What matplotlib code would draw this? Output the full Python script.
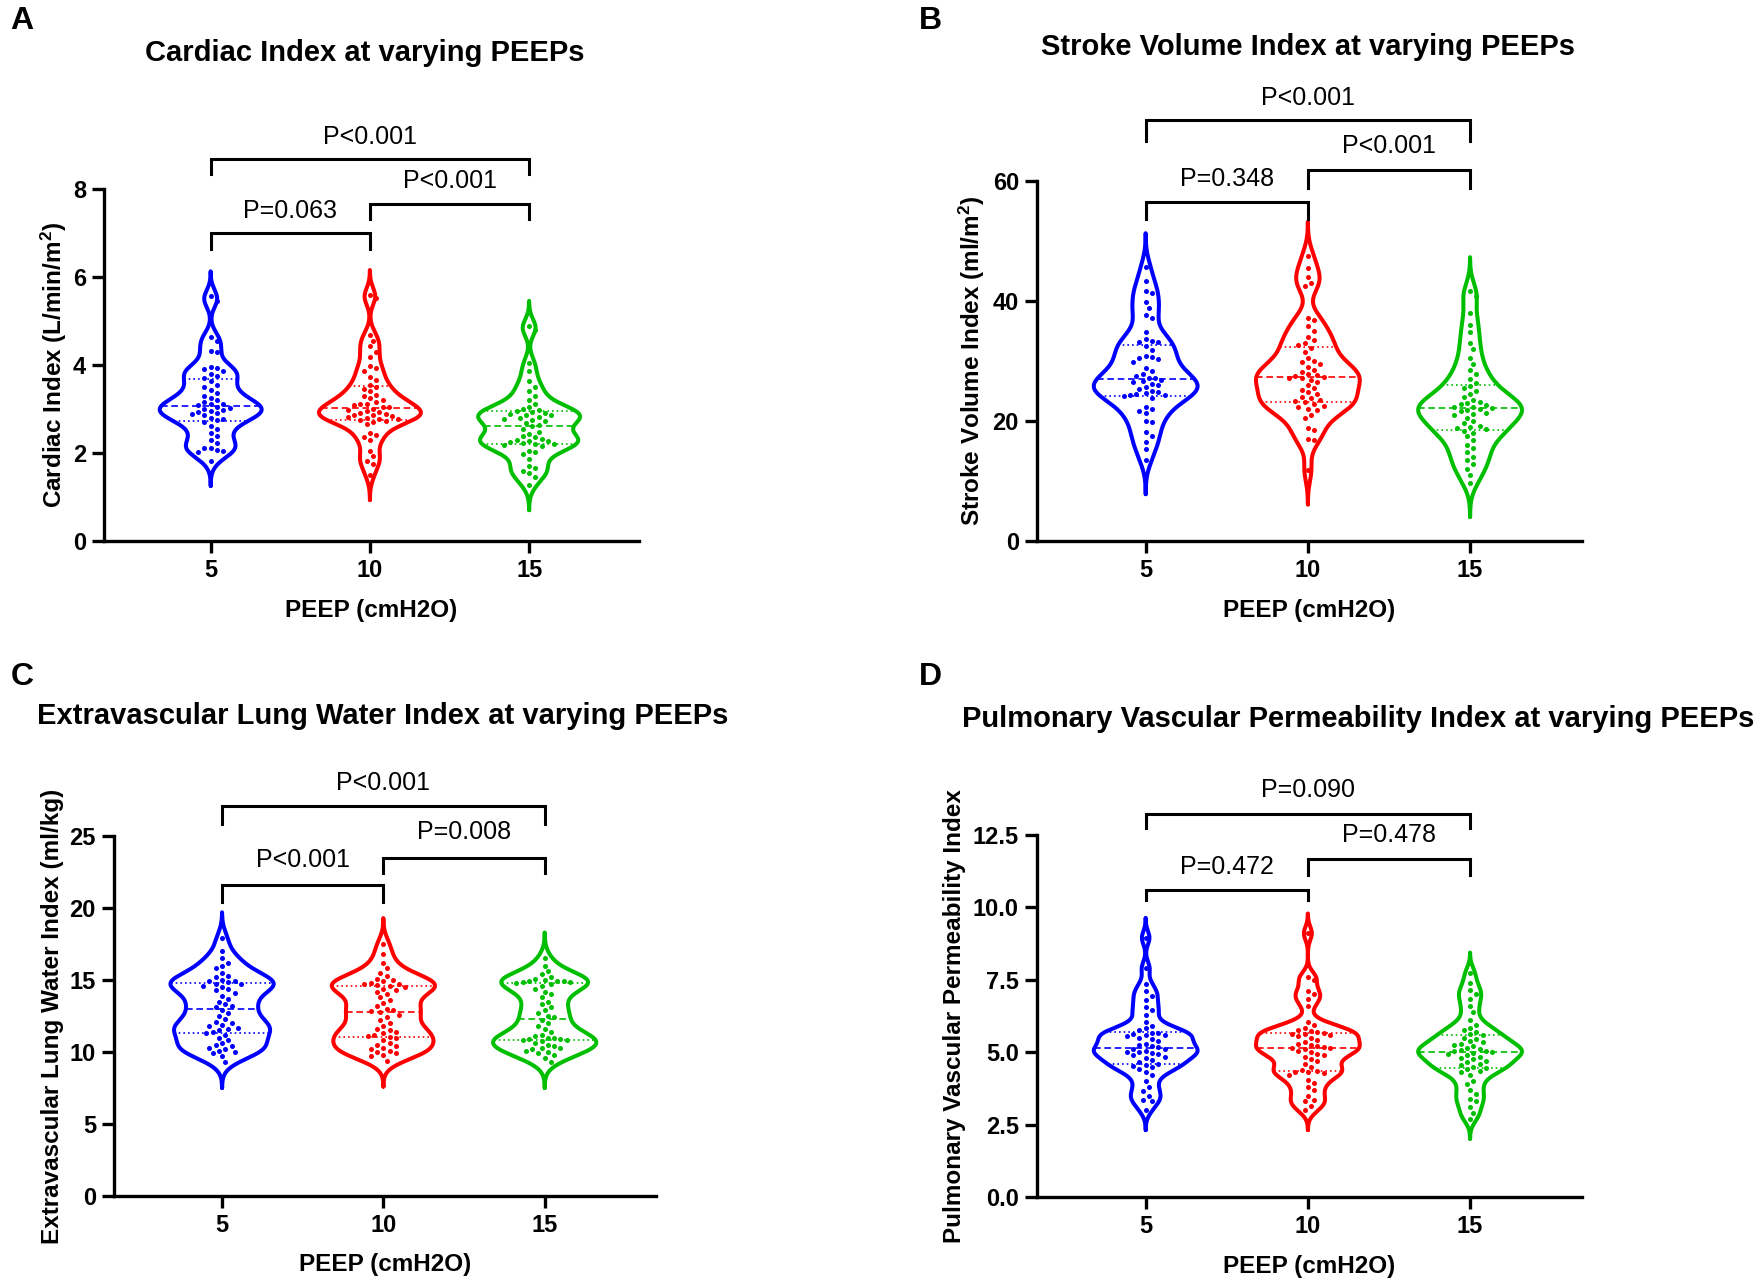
import numpy as np
import matplotlib
matplotlib.use('Agg')
import matplotlib.pyplot as plt

plt.rcParams['font.family'] = ['Liberation Sans', 'DejaVu Sans']
plt.rcParams['mathtext.fontset'] = 'custom'
plt.rcParams['mathtext.rm'] = 'Liberation Sans:bold'
plt.rcParams['mathtext.bf'] = 'Liberation Sans:bold'
plt.rcParams['mathtext.default'] = 'rm'

# ---------------- data ----------------
peep_labels = ['5', '10', '15']
group_colors = ['#0000FF', '#FF0000', '#00BF00']

# Panel A: Cardiac Index (L/min/m2)
ci_peep5 = [5.55, 5.45, 4.62, 4.55, 4.32, 4.28, 3.95, 3.93, 3.9, 3.86, 3.8, 3.75, 3.7,
            3.62, 3.55, 3.5, 3.42, 3.35, 3.3, 3.25, 3.2, 3.15, 3.12, 3.1, 3.08,
            3.05, 3.02, 3.0, 2.97, 2.95, 2.92, 2.9, 2.88, 2.85, 2.8, 2.78, 2.75,
            2.7, 2.62, 2.55, 2.45, 2.38, 2.3, 2.22, 2.12, 2.1, 2.07, 2.05, 2.03, 1.82]
ci_peep10 = [5.58, 5.52, 4.68, 4.55, 4.42, 4.3, 4.18, 3.97, 3.92, 3.85, 3.72, 3.65, 3.55,
             3.5, 3.45, 3.4, 3.32, 3.28, 3.25, 3.2, 3.15, 3.12, 3.1, 3.08, 3.05, 3.03,
             3.0, 2.98, 2.95, 2.92, 2.9, 2.88, 2.86, 2.85, 2.83, 2.82, 2.8, 2.78, 2.76,
             2.74, 2.72, 2.7, 2.65, 2.45, 2.4, 2.35, 2.3, 2.05, 1.92, 1.82, 1.75, 1.5]
ci_peep15 = [4.88, 4.8, 4.05, 3.85, 3.62, 3.5, 3.4, 3.3, 3.2, 3.1, 3.05, 3.0, 2.97,
             2.94, 2.92, 2.9, 2.88, 2.86, 2.85, 2.82, 2.8, 2.78, 2.75, 2.72, 2.68, 2.64,
             2.6, 2.55, 2.48, 2.42, 2.38, 2.35, 2.32, 2.3, 2.28, 2.26, 2.25, 2.23, 2.21,
             2.2, 2.18, 2.15, 2.05, 2.02, 1.98, 1.85, 1.7, 1.65, 1.58, 1.55, 1.45, 1.27]

# Panel B: Stroke Volume Index (ml/m2)
svi_peep5 = [45.6, 43.3, 41.7, 41.3, 39.8, 38.8, 37.7, 37.1, 34.8, 33.7, 33.3, 33.2, 33.1,
             32.5, 31.8, 30.8, 30.6, 30.5, 30.3, 29.8, 28.8, 28.3, 27.8, 27.5, 27.2, 27.1,
             26.9, 26.7, 26.5, 26.2, 26.0, 25.7, 25.4, 25.0, 24.8, 24.6, 24.5, 24.4, 24.3,
             24.1, 23.9, 22.4, 22.0, 21.7, 21.3, 20.0, 19.8, 18.2, 17.5, 16.5, 15.4, 13.5]
svi_peep10 = [47.5, 45.5, 44.0, 43.0, 42.5, 37.2, 36.8, 35.8, 35.0, 34.0, 33.5, 33.0, 32.7,
              32.2, 31.5, 30.5, 30.0, 29.8, 29.5, 29.0, 28.5, 28.2, 27.9, 27.6, 27.5, 27.4,
              27.2, 27.1, 26.9, 26.5, 26.0, 25.5, 25.2, 24.8, 24.5, 24.0, 23.8, 23.5, 23.3,
              23.1, 22.8, 22.5, 22.3, 22.0, 21.8, 21.0, 20.5, 18.8, 18.5, 17.0, 16.8, 11.8]
svi_peep15 = [41.6, 40.8, 38.0, 36.0, 34.8, 33.0, 32.0, 30.5, 29.5, 28.5, 27.8, 27.0, 26.3,
              25.8, 25.5, 25.0, 24.5, 24.0, 23.5, 23.2, 23.0, 22.8, 22.6, 22.4, 22.3, 22.2,
              22.0, 21.8, 21.6, 21.4, 21.2, 21.0, 20.5, 20.0, 19.6, 19.2, 19.0, 18.8, 18.6,
              18.4, 18.0, 17.5, 16.8, 16.0, 15.5, 14.8, 14.0, 13.5, 12.8, 12.0, 11.0, 9.7]

# Panel C: Extravascular Lung Water Index (ml/kg)
evlwi_peep5 = [17.9, 17.0, 16.5, 16.2, 16.0, 15.8, 15.5, 15.3, 15.2, 15.0, 14.95, 14.9, 14.85,
               14.75, 14.7, 14.6, 14.5, 14.4, 14.3, 14.1, 13.9, 13.7, 13.5, 13.3, 13.2, 13.1,
               12.9, 12.7, 12.5, 12.3, 12.1, 12.0, 11.9, 11.8, 11.7, 11.6, 11.5, 11.4, 11.35,
               11.2, 11.0, 10.8, 10.6, 10.5, 10.4, 10.3, 10.2, 10.1, 10.0, 9.9, 9.7, 9.3]
evlwi_peep10 = [17.5, 16.8, 16.2, 15.8, 15.5, 15.3, 15.1, 15.0, 14.9, 14.8, 14.75, 14.7, 14.65,
                14.55, 14.5, 14.4, 14.3, 14.2, 14.0, 13.8, 13.6, 13.4, 13.2, 13.0, 12.9, 12.85,
                12.75, 12.6, 12.4, 12.2, 12.0, 11.8, 11.6, 11.5, 11.4, 11.3, 11.2, 11.1, 11.05,
                10.95, 10.8, 10.6, 10.5, 10.4, 10.3, 10.2, 10.1, 10.0, 9.95, 9.8, 9.7, 9.4]
evlwi_peep15 = [16.5, 16.0, 15.6, 15.4, 15.2, 15.1, 15.0, 14.95, 14.9, 14.9, 14.85, 14.85, 14.82,
                14.75, 14.6, 14.4, 14.2, 14.0, 13.8, 13.5, 13.3, 13.1, 12.9, 12.7, 12.5, 12.4,
                12.2, 12.0, 11.8, 11.6, 11.4, 11.2, 11.1, 11.0, 10.95, 10.9, 10.88, 10.85, 10.82,
                10.75, 10.6, 10.5, 10.4, 10.3, 10.3, 10.2, 10.1, 10.0, 9.9, 9.8, 9.6, 9.3]

# Panel D: Pulmonary Vascular Permeability Index
pvpi_peep5 = [8.95, 7.9, 7.35, 7.1, 6.95, 6.8, 6.55, 6.45, 6.3, 6.05, 5.9, 5.82, 5.75,
              5.68, 5.65, 5.62, 5.6, 5.58, 5.55, 5.5, 5.45, 5.4, 5.3, 5.25, 5.2, 5.17,
              5.12, 5.1, 5.05, 5.02, 5.0, 4.98, 4.95, 4.9, 4.85, 4.8, 4.72, 4.65, 4.6,
              4.55, 4.52, 4.5, 4.42, 4.3, 4.2, 4.0, 3.8, 3.65, 3.5, 3.35, 3.3, 3.0]
pvpi_peep10 = [9.1, 7.6, 7.5, 7.1, 7.0, 6.85, 6.6, 6.05, 5.95, 5.85, 5.78, 5.72, 5.69,
               5.66, 5.64, 5.62, 5.6, 5.55, 5.5, 5.42, 5.35, 5.3, 5.25, 5.2, 5.18, 5.16,
               5.14, 5.1, 5.05, 5.0, 4.95, 4.9, 4.85, 4.75, 4.7, 4.6, 4.5, 4.4, 4.35,
               4.32, 4.3, 4.28, 4.2, 4.05, 3.95, 3.8, 3.7, 3.5, 3.35, 3.3, 3.15, 3.0]
pvpi_peep15 = [7.75, 7.4, 7.15, 7.0, 6.85, 6.6, 6.4, 6.1, 5.95, 5.85, 5.75, 5.7, 5.62,
               5.58, 5.5, 5.45, 5.4, 5.35, 5.3, 5.25, 5.2, 5.15, 5.1, 5.08, 5.05, 5.03,
               5.01, 4.98, 4.95, 4.9, 4.85, 4.8, 4.75, 4.7, 4.65, 4.6, 4.55, 4.5, 4.45,
               4.41, 4.35, 4.3, 4.2, 4.0, 3.9, 3.7, 3.55, 3.4, 3.3, 3.1, 2.9, 2.7]

# p-values: (group i, group j, label)
p_ci = [(0, 1, 'P=0.063'), (1, 2, 'P<0.001'), (0, 2, 'P<0.001')]
p_svi = [(0, 1, 'P=0.348'), (1, 2, 'P<0.001'), (0, 2, 'P<0.001')]
p_evlwi = [(0, 1, 'P<0.001'), (1, 2, 'P=0.008'), (0, 2, 'P<0.001')]
p_pvpi = [(0, 1, 'P=0.472'), (1, 2, 'P=0.478'), (0, 2, 'P=0.090')]

titles = ['Cardiac Index at varying PEEPs',
          'Stroke Volume Index at varying PEEPs',
          'Extravascular Lung Water Index at varying PEEPs',
          'Pulmonary Vascular Permeability Index at varying PEEPs']
ylabels = ['Cardiac Index (L/min/m$^{2}$)',
           'Stroke Volume Index (ml/m$^{2}$)',
           'Extravascular Lung Water Index (ml/kg)',
           'Pulmonary Vascular Permeability Index']
xlabel = 'PEEP (cmH2O)'
panel_letters = ['A', 'B', 'C', 'D']
yticks_list = [[0, 2, 4, 6, 8], [0, 20, 40, 60], [0, 5, 10, 15, 20, 25],
               [0.0, 2.5, 5.0, 7.5, 10.0, 12.5]]

# ---------------- layout (pixels) ----------------
W, H = 1759, 1281
fig = plt.figure(figsize=(W / 100, H / 100), dpi=100)

panels = [
    dict(box=(104, 639, 541, 188.5), ylim=(0, 8), data=[ci_peep5, ci_peep10, ci_peep15],
         pv=p_ci, bw=0.19, fmt='%d',
         brackets={(0, 1): (6.98, 6.62, 7.49), (1, 2): (7.64, 7.31, 8.18), (0, 2): (8.66, 8.33, 9.18)},
         title_xy=(365, 53), letter_xy=(22, 21), ylab_x=54),
    dict(box=(1037, 1582, 541, 181), ylim=(0, 60), data=[svi_peep5, svi_peep10, svi_peep15],
         pv=p_svi, bw=1.9, fmt='%d',
         brackets={(0, 1): (56.5, 53.6, 60.4), (1, 2): (61.9, 58.9, 65.8), (0, 2): (70.1, 66.6, 73.9)},
         title_xy=(1308, 47), letter_xy=(930, 21), ylab_x=972),
    dict(box=(114, 656, 1196, 836), ylim=(0, 25), data=[evlwi_peep5, evlwi_peep10, evlwi_peep15],
         pv=p_evlwi, bw=0.6, fmt='%d',
         brackets={(0, 1): (21.6, 20.4, 23.3), (1, 2): (23.5, 22.4, 25.3), (0, 2): (27.05, 25.8, 28.7)},
         title_xy=(383, 716), letter_xy=(22, 677), ylab_x=52),
    dict(box=(1037, 1582, 1197, 835), ylim=(0, 12.5), data=[pvpi_peep5, pvpi_peep10, pvpi_peep15],
         pv=p_pvpi, bw=0.23, fmt='%.1f',
         brackets={(0, 1): (10.6, 10.26, 11.4), (1, 2): (11.67, 11.12, 12.5), (0, 2): (13.22, 12.74, 14.05)},
         title_xy=(1358, 719), letter_xy=(930, 677), ylab_x=955),
]

XLIM = (-0.67, 2.69)
HALF_W = 0.32
TICK_FS = 17
LABEL_FS = 17.5
TITLE_FS = 21
P_FS = 18
LETTER_FS = 23


def kde_curve(vals, bw, n=500):
    v = np.asarray(vals, dtype=float)
    g = np.linspace(v.min() - 3 * bw, v.max() + 3 * bw, n)
    d = np.exp(-0.5 * ((g[:, None] - v[None, :]) / bw) ** 2).sum(axis=1)
    return g, d


def swarm_offsets(ax, pos, vals, dpx=6.3):
    vals = np.asarray(vals, dtype=float)
    pts = ax.transData.transform(np.column_stack([np.full(len(vals), pos), vals]))
    ypx = pts[:, 1]
    x0 = pts[0, 0]
    xunit = ax.transData.transform([(pos + 1, 0)])[0, 0] - x0
    order = np.argsort(-vals)
    placed = []
    offs = np.zeros(len(vals))
    cands = [0.0]
    for j in range(1, 30):
        cands += [j * dpx / 2, -j * dpx / 2]
    for i in order:
        y = ypx[i]
        for c in cands:
            ok = True
            for (px, py) in placed:
                if (px - c) ** 2 + (py - y) ** 2 < (dpx * 0.98) ** 2:
                    ok = False
                    break
            if ok:
                placed.append((c, y))
                offs[i] = c / xunit
                break
    return offs


for k, p in enumerate(panels):
    l, r, b, t = p['box']
    ax = fig.add_axes([l / W, 1 - b / H, (r - l) / W, (b - t) / H])
    ax.set_xlim(*XLIM)
    ax.set_ylim(*p['ylim'])
    for s in ['top', 'right']:
        ax.spines[s].set_visible(False)
    for s in ['left', 'bottom']:
        ax.spines[s].set_linewidth(2.4)
    ax.tick_params(axis='both', direction='out', length=8.5, width=2.4, pad=4.5,
                   labelsize=TICK_FS)
    ax.set_xticks(range(3))
    ax.set_xticklabels(peep_labels, fontweight='bold', fontsize=TICK_FS)
    yt = yticks_list[k]
    ax.set_yticks(yt)
    ax.set_yticklabels([p['fmt'] % v for v in yt], fontweight='bold', fontsize=TICK_FS)

    ax.set_xlabel(xlabel, fontsize=LABEL_FS, fontweight='bold', va='center')
    ax.xaxis.set_label_coords(0.5, -(610 - 541) / (b - t))
    ax.set_ylabel(ylabels[k], fontsize=LABEL_FS, fontweight='bold', va='center')
    ax.yaxis.set_label_coords((p['ylab_x'] - l) / (r - l), 0.5)

    for gi, vals in enumerate(p['data']):
        col = group_colors[gi]
        g, d = kde_curve(vals, p['bw'])
        w = d / d.max() * HALF_W
        xs = np.concatenate([gi + w, (gi - w)[::-1], [gi + w[0]]])
        ys = np.concatenate([g, g[::-1], [g[0]]])
        ax.plot(xs, ys, color=col, lw=2.9, solid_joinstyle='round',
                solid_capstyle='round', zorder=2, clip_on=False)
        q1, med, q3 = np.percentile(vals, [25, 50, 75])
        for yv, ls in [(med, (0, (4, 2.2))), (q1, (0, (1, 1.8))), (q3, (0, (1, 1.8)))]:
            ww = np.interp(yv, g, w)
            ax.plot([gi - ww, gi + ww], [yv, yv], color=col, lw=1.2, ls=ls, zorder=3)
        offs = swarm_offsets(ax, gi, vals)
        ax.scatter(gi + offs, vals, s=13, color=col, linewidths=0, zorder=4)

    for (i, j, lab) in p['pv']:
        ybar, yend, ylab = p['brackets'][(i, j)]
        ax.plot([i, i, j, j], [yend, ybar, ybar, yend], color='black', lw=2.2,
                clip_on=False, solid_joinstyle='miter', zorder=5)
        ax.text((i + j) / 2, ylab, lab, ha='center', va='center', fontsize=P_FS,
                clip_on=False)

    fig.text(p['title_xy'][0] / W, 1 - p['title_xy'][1] / H, titles[k],
             ha='center', va='center', fontsize=TITLE_FS, fontweight='bold')
    fig.text(p['letter_xy'][0] / W, 1 - p['letter_xy'][1] / H, panel_letters[k],
             ha='center', va='center', fontsize=LETTER_FS, fontweight='bold')

fig.savefig('out.png', dpi=100, facecolor='white')
